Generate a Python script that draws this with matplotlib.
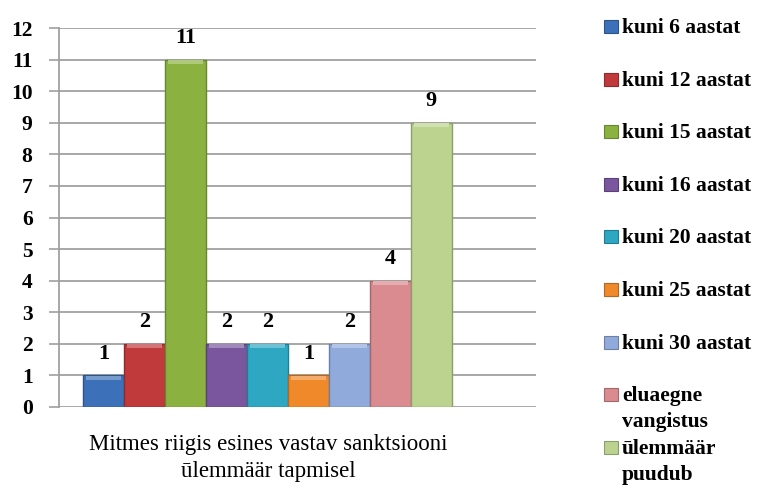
# -*- coding: utf-8 -*-
"""Sanktsiooni ülemmäär tapmisel — riikide arv kategooriate kaupa."""
import matplotlib
matplotlib.use("Agg")
import matplotlib.pyplot as plt
from matplotlib.patches import Rectangle
from matplotlib.colors import to_rgb

matplotlib.rcParams["font.family"] = ["Liberation Serif", "DejaVu Serif"]

categories = [
    "kuni 6 aastat",
    "kuni 12 aastat",
    "kuni 15 aastat",
    "kuni 16 aastat",
    "kuni 20 aastat",
    "kuni 25 aastat",
    "kuni 30 aastat",
    "eluaegne\nvangistus",
    "ūlemmäär\npuudub",
]
counts = [1, 2, 11, 2, 2, 1, 2, 4, 9]
colors = ["#3C70B8", "#C0393B", "#8BB240", "#7A569F", "#2EA7C2",
          "#F0892A", "#8FAADB", "#D98B8F", "#BBD38F"]

y_ticks = list(range(0, 13))
x_label = "Mitmes riigis esines vastav sanktsiooni\nūlemmäär tapmisel"


def darker(color, factor=0.75):
    r, g, b = to_rgb(color)
    return (r * factor, g * factor, b * factor)


figure = plt.figure(figsize=(7.73, 4.95), dpi=100)
axes = figure.add_axes([0.0763, 0.1778, 0.617, 0.7656])

positions = list(range(len(counts)))
bars = axes.bar(positions, counts, width=1.0, color=colors,
                edgecolor=[darker(c) for c in colors], linewidth=1.0, zorder=3)

# heledam triip tulba ülaservas (Exceli kaldserva mulje)
for bar, color in zip(bars, colors):
    r, g, b = to_rgb(color)
    light = (r + (1 - r) * 0.3, g + (1 - g) * 0.3, b + (1 - b) * 0.3)
    axes.add_patch(Rectangle((bar.get_x() + 0.08, bar.get_height() - 0.14),
                             bar.get_width() - 0.16, 0.12,
                             color=light, linewidth=0, zorder=4))

for pos, value in zip(positions, counts):
    axes.text(pos, value + 0.68, str(value), ha="center", va="center",
              fontsize=16, fontweight="bold", zorder=5)

axes.set_xlim(-1.085, 10.55)
axes.set_ylim(0, 12)
axes.set_yticks(y_ticks)
axes.set_yticklabels([str(t) for t in y_ticks], fontsize=15.5, fontweight="bold")
axes.set_xticks([])
axes.tick_params(axis="y", length=7, width=1.2, color="#A0A0A0", pad=12)

axes.grid(axis="y", color="#A0A0A0", linewidth=1.3, zorder=0)
axes.set_axisbelow(True)
for side in ["top", "right", "bottom"]:
    axes.spines[side].set_visible(False)
axes.spines["left"].set_color("#A0A0A0")
axes.spines["left"].set_linewidth(1.3)

figure.text(268 / 773, 1 - 458 / 495, x_label, ha="center", va="center",
            fontsize=16.5, linespacing=1.38)

# legend käsitsi, et mitmerealised kirjed paigutuksid nagu originaalis
for i, (label, color) in enumerate(zip(categories, colors)):
    y_px = 27 + 52.6 * i
    figure.patches.append(Rectangle((604 / 773, 1 - (y_px + 6) / 495),
                                    14 / 773, 13 / 495,
                                    transform=figure.transFigure,
                                    facecolor=color, edgecolor=darker(color),
                                    linewidth=0.8))
    figure.text(622 / 773, 1 - (y_px - 9) / 495, label, ha="left", va="top",
                fontsize=15.5, fontweight="bold", linespacing=1.4)

figure.savefig("out.png", dpi=100)
